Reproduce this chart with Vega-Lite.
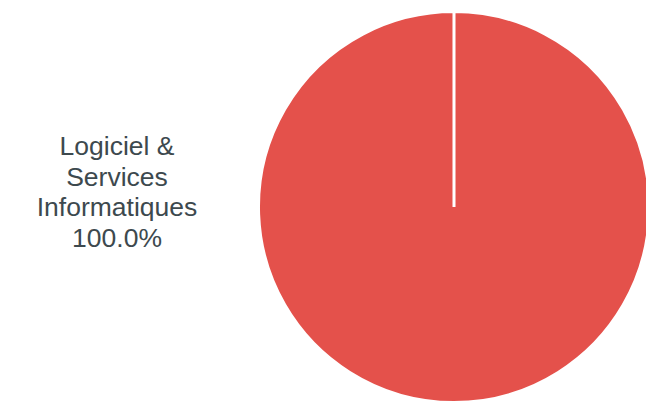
{
  "$schema": "https://vega.github.io/schema/vega-lite/v6.json",
  "padding": {"left": 0, "top": 5, "right": 0, "bottom": 0},
  "background": "white",
  "bounds": "flush",
  "config": {"view": {"stroke": null}},
  "data": {"values": [{"label": "Logiciel &\nServices\nInformatiques", "share": 100}]},
  "spacing": 26,
  "hconcat": [
    {
      "width": 234,
      "height": 388,
      "transform": [{"calculate": "datum.label + '\\n' + format(datum.share, '.1f') + '%'", "as": "txt"}],
      "mark": {"type": "text", "font": "Liberation Sans", "fontSize": 26.5, "lineHeight": 30.5, "lineBreak": "\n", "color": "#3d494e", "align": "center", "baseline": "middle", "dy": -60},
      "encoding": {"text": {"field": "txt"}}
    },
    {
      "width": 388,
      "height": 388,
      "mark": {"type": "arc", "stroke": "white", "strokeWidth": 3, "outerRadius": 195.5},
      "encoding": {
        "theta": {"field": "share", "type": "quantitative", "stack": true, "scale": {"range": [0, 6.2831]}},
        "color": {"field": "label", "type": "nominal", "scale": {"range": ["#e4514b"]}, "legend": null}
      }
    }
  ]
}
